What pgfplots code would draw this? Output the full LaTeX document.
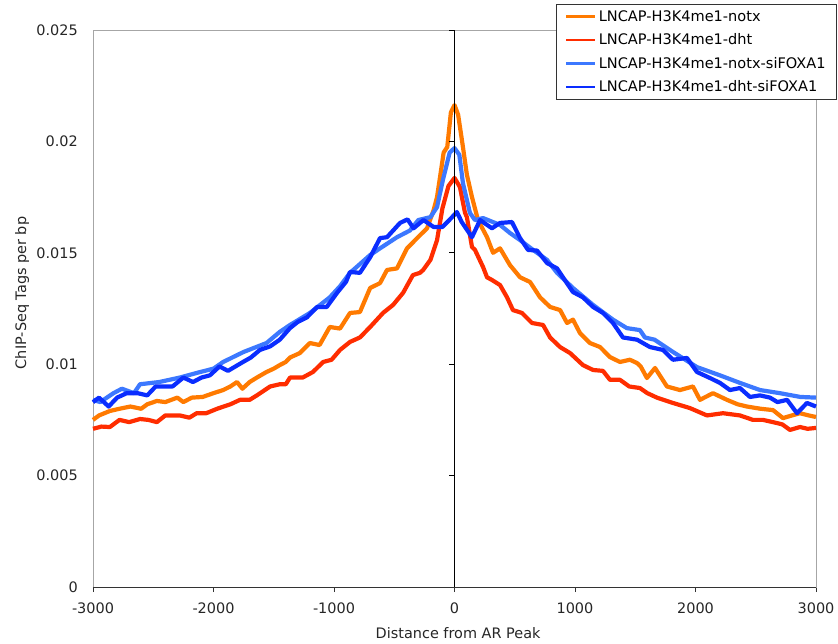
\documentclass[border=0pt]{standalone}
\usepackage{pgfplots}
\pgfplotsset{compat=1.18}
\usepackage{fontspec}
\setmainfont{DejaVu Sans}
\definecolor{corange}{RGB}{255,122,0}
\definecolor{cred}{RGB}{255,45,0}
\definecolor{clblue}{RGB}{60,120,255}
\definecolor{cdblue}{RGB}{10,45,255}
\begin{document}
\begin{tikzpicture}
\begin{axis}[
  scale only axis, width=723bp, height=557bp,
  xmin=-3000, xmax=3000, ymin=0, ymax=0.025,
  scaled y ticks=false, scaled x ticks=false,
  axis line style={draw=gray!70, line width=0.8bp},
  xtick={-3000,-2000,-1000,0,1000,2000,3000},
  xticklabels={-3000,-2000,-1000,0,1000,2000,3000},
  ytick={0,0.005,0.01,0.015,0.02,0.025},
  yticklabels={0,0.005,0.01,0.015,0.02,0.025},
  /pgf/number format/assume math mode=true,
  tick align=outside, major tick length=5bp,
  xtick pos=bottom, ytick pos=left,
  xtick style={draw=gray!40!black, line width=0.8bp},
  ytick style={draw=none},
  ticklabel style={font=\fontsize{14.5}{17}\selectfont, text=black!85},
  xticklabel style={inner sep=0pt, yshift=-11bp},
  yticklabel style={inner sep=0pt, xshift=-10bp},
  xlabel={Distance from AR Peak},
  ylabel={ChIP-Seq Tags per bp},
  label style={font=\fontsize{14.5}{17}\selectfont, text=black!85},
  xlabel style={at={(axis description cs:0.505,-0.082)}, anchor=center},
  ylabel style={at={(axis description cs:-0.098,0.528)}, anchor=center, rotate=0},
  legend style={at={(axis description cs:1.029,1.0467)}, anchor=north east,
    draw=black!80, line width=0.8bp, font=\fontsize{14.6}{16}\selectfont,
    inner xsep=9bp, inner ysep=4bp, row sep=7bp},
  legend cell align=left,
  legend image code/.code={\draw[#1, line width=2.8bp] (0bp,0bp) -- (29bp,0bp);},
  every axis plot/.append style={line width=4.2bp, line join=round},
  clip=false,
]
\addplot[corange] coordinates {
(-3000,0.0075) (-2950,0.0077) (-2860,0.0079) (-2780,0.0080) (-2690,0.0081) (-2600,0.0080)
(-2550,0.0082) (-2470,0.00835) (-2400,0.0083) (-2300,0.0085) (-2250,0.0083) (-2180,0.0085)
(-2090,0.00853) (-2000,0.0087) (-1920,0.00884) (-1860,0.0090) (-1805,0.0092) (-1760,0.0089)
(-1700,0.0092) (-1640,0.0094) (-1560,0.00965) (-1500,0.0098) (-1450,0.00996) (-1400,0.0101)
(-1365,0.0103) (-1283,0.0105) (-1200,0.01095) (-1120,0.01086) (-1035,0.01167) (-950,0.0116)
(-867,0.0123) (-785,0.01234) (-700,0.01342) (-618,0.01364) (-560,0.01423) (-477,0.0143)
(-394,0.0152) (-310,0.01566) (-228,0.0161) (-174,0.0169) (-145,0.0175) (-120,0.0184)
(-90,0.0195) (-60,0.01975) (-30,0.0213) (0,0.02163) (30,0.0212) (70,0.01975)
(103,0.0185) (145,0.0175) (195,0.01647) (270,0.0157) (320,0.0150) (378,0.0152)
(460,0.01445) (544,0.0139) (627,0.01369) (710,0.0130) (793,0.01257) (876,0.01243)
(934,0.01185) (983,0.0120) (1041,0.0114) (1124,0.01095) (1208,0.01077) (1290,0.01032)
(1373,0.0101) (1456,0.0102) (1515,0.01005) (1545,0.0099) (1597,0.00938) (1664,0.00983)
(1763,0.0090) (1871,0.00884) (1979,0.0090) (2037,0.0084) (2145,0.0087) (2261,0.0084)
(2350,0.0082) (2427,0.0081) (2540,0.0080) (2643,0.00794) (2726,0.00758) (2800,0.0077)
(2867,0.0078) (2940,0.0077) (3000,0.00763)
};
\addlegendentry{LNCAP-H3K4me1-notx}
\addplot[cred] coordinates {
(-3000,0.0071) (-2930,0.0072) (-2860,0.00718) (-2780,0.0075) (-2700,0.0074) (-2610,0.00754)
(-2540,0.0075) (-2470,0.0074) (-2400,0.0077) (-2280,0.0077) (-2200,0.0076) (-2140,0.0078)
(-2060,0.0078) (-1970,0.0080) (-1860,0.0082) (-1780,0.0084) (-1700,0.0084) (-1640,0.0086)
(-1530,0.0090) (-1450,0.0091) (-1400,0.0091) (-1365,0.0094) (-1260,0.0094) (-1175,0.00965)
(-1090,0.0101) (-1020,0.0102) (-950,0.01064) (-867,0.0110) (-785,0.0112) (-700,0.01167)
(-593,0.0123) (-510,0.01266) (-427,0.0132) (-345,0.0140) (-287,0.0141) (-260,0.01423)
(-200,0.01468) (-145,0.01557) (-100,0.0170) (-50,0.0180) (0,0.01836) (45,0.01795)
(87,0.0168) (103,0.0166) (145,0.01526) (170,0.01513) (237,0.01436) (270,0.0139)
(311,0.01378) (378,0.01355) (436,0.0130) (485,0.01243) (560,0.0123) (643,0.01185)
(735,0.01176) (793,0.0112) (876,0.01077) (959,0.0105) (1066,0.00996) (1150,0.00974)
(1232,0.0097) (1290,0.0093) (1373,0.0093) (1450,0.0090) (1539,0.00893) (1600,0.0087)
(1680,0.0085) (1813,0.00826) (1954,0.00803) (2095,0.0077) (2228,0.0078) (2369,0.0077)
(2477,0.0075) (2560,0.0075) (2643,0.0074) (2720,0.0073) (2784,0.00705) (2867,0.00718)
(2930,0.0071) (3000,0.00714)
};
\addlegendentry{LNCAP-H3K4me1-dht}
\addplot[clblue] coordinates {
(-3000,0.0084) (-2940,0.0083) (-2830,0.0087) (-2760,0.0089) (-2660,0.0087) (-2610,0.0091)
(-2450,0.0092) (-2280,0.0094) (-2110,0.00965) (-2000,0.0098) (-1920,0.0101) (-1750,0.01055)
(-1560,0.01095) (-1450,0.01145) (-1365,0.01176) (-1200,0.0123) (-1035,0.0130) (-950,0.0135)
(-867,0.0141) (-700,0.0149) (-618,0.0152) (-477,0.0157) (-370,0.0160) (-300,0.01647)
(-200,0.0166) (-145,0.01705) (-95,0.0183) (-40,0.0195) (0,0.0197) (40,0.0194)
(70,0.01813) (128,0.01679) (170,0.01647) (237,0.01656) (378,0.01625) (460,0.01589)
(544,0.01557) (652,0.01513) (768,0.01468) (851,0.0141) (983,0.01342) (1150,0.01266)
(1315,0.0120) (1430,0.01162) (1539,0.01153) (1580,0.0112) (1660,0.0111) (1813,0.01055)
(2012,0.00987) (2203,0.0095) (2369,0.00916) (2535,0.00884) (2700,0.0087) (2870,0.00853)
(3000,0.0085)
};
\addlegendentry{LNCAP-H3K4me1-notx-siFOXA1}
\addplot[cdblue] coordinates {
(-3000,0.0083) (-2950,0.0085) (-2870,0.0081) (-2800,0.0085) (-2720,0.0087) (-2630,0.0087)
(-2550,0.0086) (-2480,0.0090) (-2340,0.0090) (-2250,0.0094) (-2170,0.0092) (-2100,0.0094)
(-2030,0.0095) (-1950,0.0099) (-1880,0.0097) (-1755,0.0101) (-1690,0.0103) (-1615,0.01064)
(-1530,0.0108) (-1450,0.0111) (-1365,0.01162) (-1300,0.0119) (-1225,0.0121) (-1140,0.01257)
(-1060,0.01257) (-975,0.0132) (-900,0.0137) (-867,0.01414) (-785,0.0141) (-700,0.0148)
(-618,0.01566) (-560,0.0157) (-452,0.01634) (-390,0.0165) (-340,0.0161) (-257,0.01647)
(-174,0.01616) (-100,0.01616) (-20,0.0166) (20,0.01683) (60,0.01638) (145,0.0157)
(212,0.01647) (311,0.0161) (378,0.01634) (477,0.01638) (544,0.01566) (610,0.01513)
(685,0.0151) (768,0.01454) (851,0.0143) (900,0.0139) (983,0.01324) (1066,0.0130)
(1150,0.01257) (1232,0.0123) (1315,0.01185) (1398,0.0112) (1515,0.0111) (1622,0.01077)
(1730,0.01064) (1813,0.0102) (1929,0.01028) (2012,0.00965) (2120,0.00938) (2203,0.00916)
(2286,0.00884) (2369,0.00893) (2452,0.00853) (2535,0.0086) (2618,0.0085) (2680,0.0083)
(2760,0.0084) (2842,0.0078) (2925,0.00826) (3000,0.0081)
};
\addlegendentry{LNCAP-H3K4me1-dht-siFOXA1}
\draw[gray!40!black, line width=0.8bp] (axis cs:-3000,0) -- (axis cs:3000,0);
\draw[black, line width=0.8bp] (axis cs:0,0) -- (axis cs:0,0.025);
\draw[black, line width=0.8bp] (axis cs:0,0.005) -- ++(-6bp,0bp);
\draw[black, line width=0.8bp] (axis cs:0,0.01) -- ++(-6bp,0bp);
\draw[black, line width=0.8bp] (axis cs:0,0.015) -- ++(-6bp,0bp);
\draw[black, line width=0.8bp] (axis cs:0,0.02) -- ++(-6bp,0bp);
\draw[black, line width=0.8bp] (axis cs:0,0.025) -- ++(-6bp,0bp);
\end{axis}
\pgfresetboundingbox
\path (-93bp,-57bp) rectangle (745bp,587bp);
\end{tikzpicture}
\end{document}
